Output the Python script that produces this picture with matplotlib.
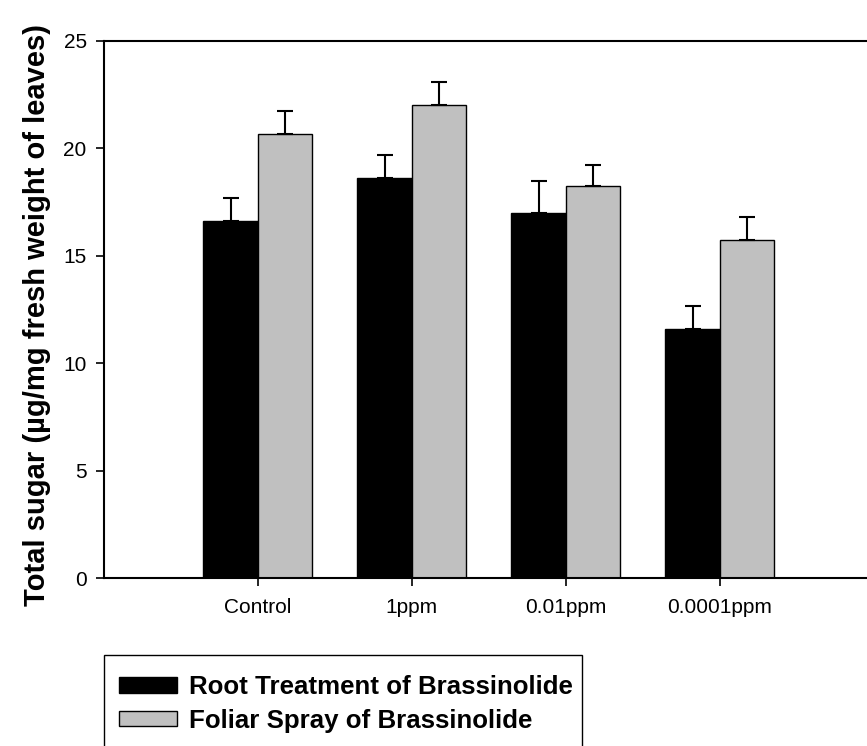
import numpy as np
import matplotlib
matplotlib.use('Agg')
import matplotlib.pyplot as plt
from matplotlib.patches import Rectangle

plt.rcParams['font.family'] = ['Liberation Sans', 'DejaVu Sans']

# data
groups = ['Control', '1ppm', '0.01ppm', '0.0001ppm']
root = [16.6, 18.6, 17.0, 11.6]
root_se = [1.07, 1.08, 1.48, 1.07]
foliar = [20.65, 22.0, 18.25, 15.72]
foliar_se = [1.07, 1.07, 0.96, 1.1]
series_labels = ['Root Treatment of Brassinolide', 'Foliar Spray of Brassinolide']

fig = plt.figure(figsize=(8.67, 7.46), dpi=100)
ax = fig.add_axes([104 / 867, 168 / 746, 762 / 867, 537 / 746])

x = np.arange(1, len(groups) + 1)
w = 0.354
ax.bar(x - w / 2, root, w, color='black', edgecolor='black', linewidth=1)
ax.bar(x + w / 2, foliar, w, color='#c0c0c0', edgecolor='black', linewidth=1)
ax.errorbar(x - w / 2, root, yerr=[np.zeros(len(root)), root_se], fmt='none',
            ecolor='black', elinewidth=1.5, capsize=5.5, capthick=1.5)
ax.errorbar(x + w / 2, foliar, yerr=[np.zeros(len(foliar)), foliar_se], fmt='none',
            ecolor='black', elinewidth=1.5, capsize=5.5, capthick=1.5)

ax.set_xlim(0, 4.95)
ax.set_ylim(0, 25)
ax.set_yticks([0, 5, 10, 15, 20, 25])
ax.set_xticks(x)
ax.set_xticklabels(groups)
ax.tick_params(axis='both', direction='out', length=5.5, width=1.2,
               labelsize=15)
ax.tick_params(axis='y', pad=7)
ax.tick_params(axis='x', pad=9)

ax.spines['right'].set_visible(False)
for s in ['left', 'top', 'bottom']:
    ax.spines[s].set_linewidth(1.5)

ax.set_ylabel('Total sugar (µg/mg fresh weight of leaves)', fontsize=21,
              fontweight='bold')
ax.yaxis.set_label_coords(-0.07, 0.49)

# legend with a frame that runs off the bottom of the figure
handles = [Rectangle((0, 0), 1, 1, facecolor='black', edgecolor='black'),
           Rectangle((0, 0), 1, 1, facecolor='#c0c0c0', edgecolor='black')]
fig.legend(handles, series_labels, loc='upper left',
           bbox_to_anchor=(119 / 867, (746 - 675) / 746), frameon=False,
           prop={'weight': 'bold', 'size': 18.6}, handlelength=2.25,
           handleheight=0.55, handletextpad=0.47, labelspacing=0.38,
           borderpad=0, borderaxespad=0)
fig.add_artist(Rectangle((104 / 867, -0.05), 478 / 867, (746 - 655) / 746 + 0.05,
                         transform=fig.transFigure, fill=False,
                         edgecolor='black', linewidth=1, clip_on=False))

fig.savefig('out.png', dpi=100)
